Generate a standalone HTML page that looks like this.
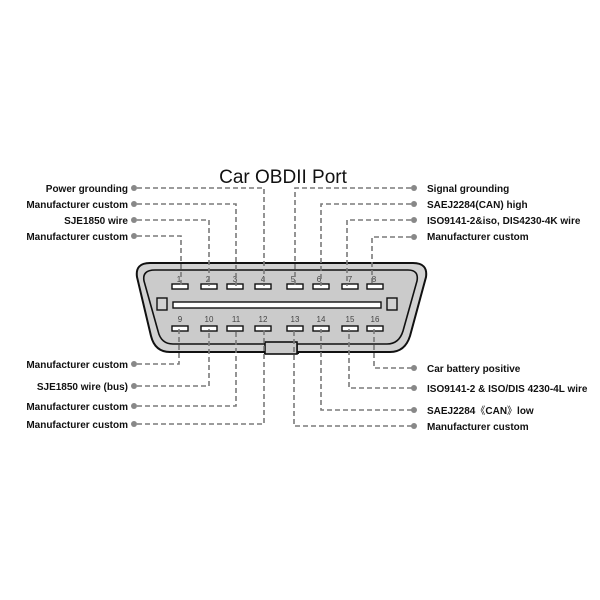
<!DOCTYPE html>
<html><head><meta charset="utf-8"><style>
html,body{margin:0;padding:0;background:#fff;}
svg{display:block}
.l{font-family:"Liberation Sans",Arial,sans-serif;font-size:10px;font-weight:bold;fill:#111}
.n{font-family:"Liberation Sans",Arial,sans-serif;font-size:8px;fill:#444}
.d{stroke:#7a7a7a;stroke-width:1.6;stroke-dasharray:5,3;fill:none}
.dot{fill:#888}
.p{fill:#fff;stroke:#111;stroke-width:1.4}
</style></head><body>
<svg width="600" height="600" viewBox="0 0 600 600">
<text x="283" y="183" text-anchor="middle" font-family="'Liberation Sans',Arial,sans-serif" font-size="19" fill="#111">Car OBDII Port</text>
<path d="M150,263 L413,263 Q428,263 426,277 L410,336 Q405,352 390,352 L298,352 L298,353 L265,353 L265,352 L170,352 Q155,352 151,336 L137,277 Q135,263 150,263 Z" fill="#d2d2d2" stroke="#111" stroke-width="2"/>
<path d="M155,270 L408,270 Q419,270 417,281 L403,331 Q399,344 387,344 L297,344 L297,352 L266,352 L266,344 L173,344 Q161,344 158,331 L144,281 Q142,270 155,270 Z" fill="#cbcbcb" stroke="#111" stroke-width="1.6"/>
<rect x="265" y="342" width="32" height="12" fill="#cbcbcb" stroke="#111" stroke-width="1.6"/>
<rect x="173" y="302" width="208" height="6" class="p"/>
<rect x="157" y="298" width="10" height="12" fill="#d2d2d2" stroke="#111" stroke-width="1.4"/>
<rect x="387" y="298" width="10" height="12" fill="#d2d2d2" stroke="#111" stroke-width="1.4"/>
<g>
<rect x="172" y="284" width="16" height="5" class="p"/><rect x="201" y="284" width="16" height="5" class="p"/><rect x="227" y="284" width="16" height="5" class="p"/><rect x="255" y="284" width="16" height="5" class="p"/><rect x="287" y="284" width="16" height="5" class="p"/><rect x="313" y="284" width="16" height="5" class="p"/><rect x="342" y="284" width="16" height="5" class="p"/><rect x="367" y="284" width="16" height="5" class="p"/>
<rect x="172" y="326" width="16" height="5" class="p"/><rect x="201" y="326" width="16" height="5" class="p"/><rect x="227" y="326" width="16" height="5" class="p"/><rect x="255" y="326" width="16" height="5" class="p"/><rect x="287" y="326" width="16" height="5" class="p"/><rect x="313" y="326" width="16" height="5" class="p"/><rect x="342" y="326" width="16" height="5" class="p"/><rect x="367" y="326" width="16" height="5" class="p"/>
</g>
<g class="n" text-anchor="middle">
<text x="179" y="282">1</text><text x="208" y="282">2</text><text x="235" y="282">3</text><text x="263" y="282">4</text><text x="293" y="282">5</text><text x="319" y="282">6</text><text x="350" y="282">7</text><text x="374" y="282">8</text>
<text x="180" y="322">9</text><text x="209" y="322">10</text><text x="236" y="322">11</text><text x="263" y="322">12</text><text x="295" y="322">13</text><text x="321" y="322">14</text><text x="350" y="322">15</text><text x="375" y="322">16</text>
</g>
<path class="d" d="M137,188 H264 V286"/>
<path class="d" d="M137,204 H236 V286"/>
<path class="d" d="M137,220 H209 V286"/>
<path class="d" d="M137,236 H181 V286"/>
<path class="d" d="M411,188 H295 V286"/>
<path class="d" d="M411,204 H321 V286"/>
<path class="d" d="M411,220 H347 V286"/>
<path class="d" d="M411,237 H372 V286"/>
<path class="d" d="M137,364 H179 V329"/>
<path class="d" d="M137,386 H209 V329"/>
<path class="d" d="M137,406 H236 V329"/>
<path class="d" d="M137,424 H264 V329"/>
<path class="d" d="M412,368 H374 V329"/>
<path class="d" d="M412,388 H349 V329"/>
<path class="d" d="M412,410 H321 V329"/>
<path class="d" d="M412,426 H294 V329"/>
<g class="dot">
<circle cx="134" cy="188" r="3"/><circle cx="134" cy="204" r="3"/><circle cx="134" cy="220" r="3"/><circle cx="134" cy="236" r="3"/>
<circle cx="414" cy="188" r="3"/><circle cx="414" cy="204" r="3"/><circle cx="414" cy="220" r="3"/><circle cx="414" cy="237" r="3"/>
<circle cx="134" cy="364" r="3"/><circle cx="134" cy="386" r="3"/><circle cx="134" cy="406" r="3"/><circle cx="134" cy="424" r="3"/>
<circle cx="414" cy="368" r="3"/><circle cx="414" cy="388" r="3"/><circle cx="414" cy="410" r="3"/><circle cx="414" cy="426" r="3"/>
</g>
<g class="l" text-anchor="end">
<text x="128" y="192">Power grounding</text>
<text x="128" y="208">Manufacturer custom</text>
<text x="128" y="224">SJE1850 wire</text>
<text x="128" y="240">Manufacturer custom</text>
<text x="128" y="368">Manufacturer custom</text>
<text x="128" y="390">SJE1850 wire (bus)</text>
<text x="128" y="410">Manufacturer custom</text>
<text x="128" y="428">Manufacturer custom</text>
</g>
<g class="l">
<text x="427" y="192">Signal grounding</text>
<text x="427" y="208">SAEJ2284(CAN) high</text>
<text x="427" y="224">ISO9141-2&amp;iso, DIS4230-4K wire</text>
<text x="427" y="240">Manufacturer custom</text>
<text x="427" y="372">Car battery positive</text>
<text x="427" y="392">ISO9141-2 &amp; ISO/DIS 4230-4L wire</text>
<text x="427" y="414">SAEJ2284<tspan font-family="'Noto Sans CJK SC',sans-serif" font-weight="normal">《</tspan>CAN<tspan font-family="'Noto Sans CJK SC',sans-serif" font-weight="normal">》</tspan>low</text>
<text x="427" y="430">Manufacturer custom</text>
</g>
</svg>
</body></html>
